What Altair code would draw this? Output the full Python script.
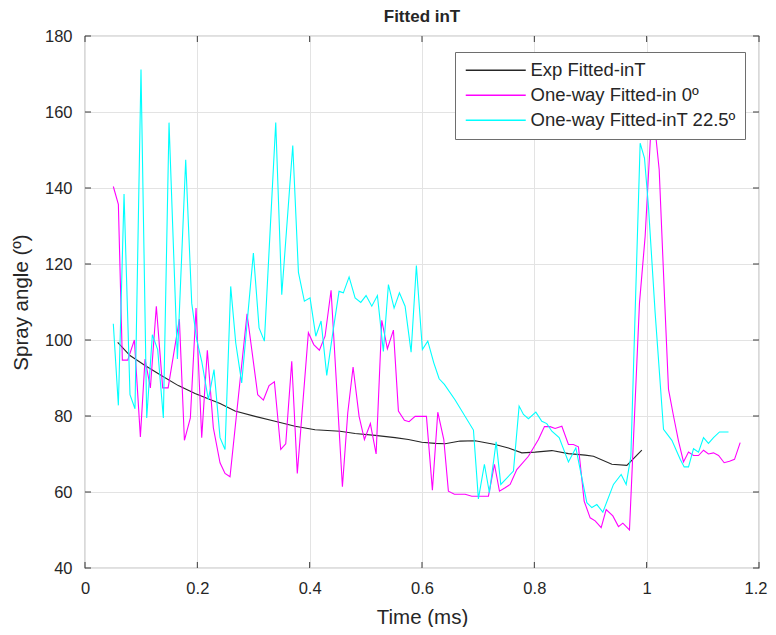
import altair as alt
import pandas as pd

# ---- data ----
exp_x = [0.0582, 0.0801, 0.1069, 0.1366, 0.1662, 0.1959, 0.2404, 0.2671, 0.3028, 0.3384,
         0.3740, 0.4096, 0.4541, 0.4809, 0.5165, 0.5521, 0.5758, 0.5996, 0.6233, 0.6411,
         0.6679, 0.6946, 0.7302, 0.7539, 0.7777, 0.8014, 0.8312, 0.8607, 0.8905, 0.9053,
         0.9380, 0.9647, 0.9914]
exp_y = [99.4, 95.9, 93.3, 90.6, 88.0, 85.9, 83.3, 81.3, 79.9, 78.6,
         77.3, 76.4, 76.0, 75.4, 74.9, 74.3, 73.8, 73.1, 72.8, 72.7,
         73.4, 73.5, 72.5, 71.6, 70.3, 70.5, 70.9, 70.1, 69.7, 69.4,
         67.3, 67.0, 71.0]

m_x = [0.0504, 0.0594, 0.0665, 0.0760, 0.0879, 0.0986, 0.1069, 0.1164, 0.1270, 0.1383,
       0.1480, 0.1680, 0.1770, 0.1876, 0.1977, 0.2078, 0.2178, 0.2285, 0.2404, 0.2493,
       0.2582, 0.2885, 0.3075, 0.3176, 0.3277, 0.3372, 0.3485, 0.3574, 0.3681, 0.3780,
       0.3977, 0.4073, 0.4173, 0.4274, 0.4381, 0.4583, 0.4678, 0.4773, 0.4880, 0.4975,
       0.5081, 0.5183, 0.5284, 0.5384, 0.5491, 0.5580, 0.5687, 0.5770, 0.5877, 0.5984,
       0.6079, 0.6185, 0.6281, 0.6388, 0.6470, 0.6577, 0.6680, 0.6768, 0.6887, 0.7183,
       0.7290, 0.7379, 0.7480, 0.7569, 0.7688, 0.7895, 0.8073, 0.8180, 0.8281, 0.8370,
       0.8490, 0.8607, 0.8696, 0.8785, 0.8887, 0.8994, 0.9083, 0.9190, 0.9279, 0.9398,
       0.9498, 0.9576, 0.9694, 0.9872, 0.9973, 1.0075, 1.0130, 1.0223, 1.0317, 1.0389,
       1.0478, 1.0567, 1.0656, 1.0745, 1.0834, 1.0923, 1.1012, 1.1100, 1.1190, 1.1280,
       1.1380, 1.1475, 1.1564, 1.1665]
m_y = [140.4, 135.7, 94.7, 94.7, 100.0, 74.5, 95.0, 87.4, 108.9, 87.4,
       87.4, 105.5, 73.6, 79.5, 108.4, 74.3, 97.3, 76.9, 67.7, 64.9,
       64.0, 106.9, 85.6, 84.2, 88.0, 89.0, 71.2, 72.7, 94.4, 64.9,
       101.9, 98.8, 97.3, 101.0, 113.1, 61.4, 80.8, 92.9, 79.9, 73.8,
       78.0, 70.0, 105.2, 97.7, 102.6, 81.3, 78.9, 78.5, 79.9, 79.9,
       79.9, 60.5, 81.0, 73.8, 60.2, 59.4, 59.4, 59.4, 58.9, 58.9,
       67.3, 60.2, 61.1, 62.0, 65.9, 69.4, 73.8, 77.2, 77.2, 76.7,
       77.3, 72.5, 72.5, 71.9, 57.6, 53.2, 52.4, 50.6, 55.4, 53.7,
       50.9, 51.8, 50.0, 109.7, 127.3, 155.3, 158.5, 144.8, 111.5, 87.0,
       80.0, 73.4, 67.9, 70.5, 69.6, 69.6, 71.0, 70.0, 70.3, 69.6,
       67.7, 68.1, 68.6, 73.0]

c_x = [0.0504, 0.0594, 0.0695, 0.0801, 0.0890, 0.0997, 0.1099, 0.1199, 0.1294, 0.1395,
       0.1496, 0.1645, 0.1793, 0.1900, 0.1989, 0.2078, 0.2196, 0.2297, 0.2404, 0.2493,
       0.2594, 0.2684, 0.2790, 0.2998, 0.3099, 0.3194, 0.3396, 0.3503, 0.3699, 0.3800,
       0.3906, 0.4007, 0.4109, 0.4203, 0.4304, 0.4405, 0.4523, 0.4600, 0.4702, 0.4809,
       0.4910, 0.5004, 0.5106, 0.5206, 0.5312, 0.5402, 0.5503, 0.5598, 0.5699, 0.5806,
       0.5900, 0.6007, 0.6103, 0.6210, 0.6305, 0.6399, 0.6590, 0.6916, 0.7004, 0.7111,
       0.7200, 0.7320, 0.7403, 0.7628, 0.7729, 0.7806, 0.7895, 0.8027, 0.8133, 0.8222,
       0.8312, 0.8442, 0.8607, 0.8739, 0.8935, 0.9024, 0.9113, 0.9220, 0.9409, 0.9546,
       0.9635, 0.9719, 0.9884, 0.9961, 1.0032, 1.0151, 1.0300, 1.0449, 1.0597, 1.0668,
       1.0745, 1.0834, 1.0923, 1.1012, 1.1100, 1.1190, 1.1297, 1.1457]
c_y = [104.3, 82.8, 138.4, 85.6, 81.9, 171.2, 79.5, 101.4, 97.5, 79.5,
       157.2, 95.0, 147.4, 109.7, 100.1, 94.4, 84.3, 92.2, 74.3, 71.2,
       114.1, 99.2, 88.7, 122.9, 103.2, 99.7, 157.2, 111.9, 151.2, 117.8,
       110.2, 111.1, 101.0, 105.0, 90.7, 101.2, 112.8, 112.4, 116.6, 111.1,
       109.9, 111.7, 108.9, 111.7, 97.0, 114.6, 108.4, 112.4, 108.9, 96.8,
       119.6, 97.5, 99.7, 94.0, 89.8, 88.3, 84.2, 76.3, 58.2, 67.3,
       59.8, 73.2, 62.0, 65.5, 82.6, 80.4, 79.3, 81.0, 78.6, 78.0,
       76.0, 74.3, 67.9, 71.6, 57.2, 55.9, 56.7, 54.7, 62.0, 64.6,
       62.0, 69.4, 151.8, 147.9, 135.1, 107.1, 76.5, 73.6, 68.6, 66.6,
       66.6, 71.4, 70.5, 74.3, 72.8, 74.3, 75.8, 75.8]

series_names = ["Exp Fitted-inT", "One-way Fitted-in 0º", "One-way Fitted-inT 22.5º"]
series_colors = ["#262626", "#ff00ff", "#00ffff"]

x_ticks = [0, 0.2, 0.4, 0.6, 0.8, 1.0, 1.2]
y_ticks = [40, 60, 80, 100, 120, 140, 160, 180]

rows = []
for name, xs, ys in zip(series_names, [exp_x, m_x, c_x], [exp_y, m_y, c_y]):
    for i, (a, b) in enumerate(zip(xs, ys)):
        rows.append({"t": a, "angle": b, "series": name, "i": i})
df = pd.DataFrame(rows)

W, H = 674, 532
FONT = "Liberation Sans"
TXT = "#262626"

xscale = alt.Scale(domain=[0, 1.2], nice=False, zero=False)
yscale = alt.Scale(domain=[40, 180], nice=False, zero=False)
xaxis = alt.Axis(values=x_ticks, format="~g", labelFlush=False,
                 labelAlign={"expr": "datum.value > 1.1 ? 'right' : 'center'"},
                 labelOffset={"expr": "datum.value > 1.1 ? 8 : 0"})
yaxis = alt.Axis(values=y_ticks, format="d")
XT = "Time (ms)"
YT = "Spray angle (º)"

lines = alt.Chart(df).mark_line(strokeWidth=1.1, clip=True).encode(
    x=alt.X("t:Q", scale=xscale, title=XT, axis=xaxis),
    y=alt.Y("angle:Q", scale=yscale, title=YT, axis=yaxis),
    color=alt.Color("series:N",
                    scale=alt.Scale(domain=series_names, range=series_colors),
                    legend=alt.Legend(title=None, orient="none", legendX=370, legendY=16,
                                      symbolType="M-2,0H14", symbolSize=56.25,
                                      symbolStrokeWidth=1.3, labelFontSize=18.5,
                                      labelFont=FONT, labelColor=TXT, labelOffset=48,
                                      labelLimit=400, padding=9, rowPadding=6,
                                      fillColor="white", strokeColor="#6e6e6e")),
    order="i:Q",
    detail="series:N",
)

xt = pd.DataFrame({"t": x_ticks})
yt = pd.DataFrame({"angle": y_ticks})
tick_col = "#3a3a3a"
bottom_ticks = alt.Chart(xt).mark_rule(color=tick_col, strokeWidth=1).encode(
    x=alt.X("t:Q", scale=xscale, title=XT, axis=xaxis), y=alt.value(H), y2=alt.value(H - 6))
top_ticks = alt.Chart(xt).mark_rule(color=tick_col, strokeWidth=1).encode(
    x=alt.X("t:Q", scale=xscale, title=XT, axis=xaxis), y=alt.value(0), y2=alt.value(6))
left_ticks = alt.Chart(yt).mark_rule(color=tick_col, strokeWidth=1).encode(
    y=alt.Y("angle:Q", scale=yscale, title=YT, axis=yaxis), x=alt.value(0), x2=alt.value(6))
right_ticks = alt.Chart(yt).mark_rule(color=tick_col, strokeWidth=1).encode(
    y=alt.Y("angle:Q", scale=yscale, title=YT, axis=yaxis), x=alt.value(W), x2=alt.value(W - 6))

chart = alt.layer(lines, bottom_ticks, top_ticks, left_ticks, right_ticks).properties(
    width=W, height=H,
    title=alt.TitleParams("Fitted inT", fontSize=17, font=FONT, fontWeight="bold",
                          color=TXT, offset=2, anchor="middle"),
    autosize=alt.AutoSizeParams(type="none"),
    padding={"left": 77, "top": 28, "right": 9, "bottom": 59},
).configure_view(
    stroke="#808080", strokeWidth=1.2
).configure_axis(
    grid=True, gridColor="#e3e3e3", gridWidth=1, domain=False, ticks=False,
    labelFont=FONT, labelFontSize=16.5, labelColor=TXT,
    titleFont=FONT, titleFontSize=20.5, titleColor=TXT, titleFontWeight="normal",
).configure_axisX(
    labelPadding=12, titlePadding=11
).configure_axisY(
    labelPadding=13, titlePadding=13
)

chart.save("out.html", embed_options={"renderer": "svg", "actions": False})
